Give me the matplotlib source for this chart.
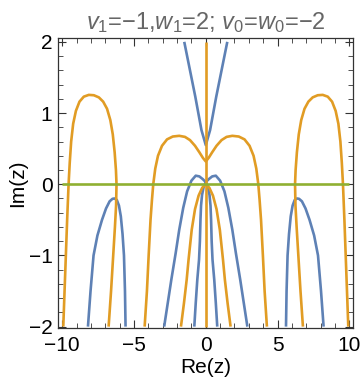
import matplotlib
matplotlib.use('Agg')
import matplotlib.pyplot as plt
from matplotlib.ticker import MultipleLocator

# ---------------------------------------------------------------------------- #
# Curves (x, y pairs in data units)
# ---------------------------------------------------------------------------- #
# blue: small side arches
blue_side_l_x = [-8.21, -8.03, -7.82, -7.55, -7.23, -6.95, -6.7, -6.5, -6.36, -6.2, -6.05,
                 -5.92, -5.8, -5.7, -5.63, -5.59]
blue_side_l_y = [-2.0, -1.5, -1.0, -0.72, -0.5, -0.34, -0.24, -0.205, -0.2, -0.22, -0.3,
                 -0.45, -0.7, -1.0, -1.5, -2.0]
blue_side_r_x = [8.21, 8.03, 7.82, 7.55, 7.23, 6.95, 6.7, 6.5, 6.36, 6.2, 6.05,
                 5.92, 5.8, 5.7, 5.63, 5.59]
blue_side_r_y = [-2.0, -1.5, -1.0, -0.72, -0.5, -0.34, -0.24, -0.205, -0.2, -0.22, -0.3,
                 -0.45, -0.7, -1.0, -1.5, -2.0]

# blue: V shape from the top
blue_v_x = [-1.5, -1.1, -0.73, -0.3, 0.0, 0.3, 0.73, 1.1, 1.5]
blue_v_y = [2.0, 1.6, 1.23, 0.76, 0.55, 0.76, 1.23, 1.6, 2.0]

# blue: two crossing central arches
blue_mid_l_x = [-2.9, -2.65, -2.4, -2.1, -1.85, -1.57, -1.3, -1.0, -0.7, -0.45, -0.2, 0.0,
                0.15, 0.26, 0.33, 0.37, 0.41, 0.47, 0.59, 0.7, 0.8]
blue_mid_l_y = [-2.0, -1.67, -1.34, -0.97, -0.64, -0.33, -0.1, 0.05, 0.12, 0.11, 0.07, 0.03,
                -0.04, -0.15, -0.3, -0.5, -0.8, -1.06, -1.34, -1.67, -2.0]
blue_mid_r_x = [2.9, 2.65, 2.4, 2.1, 1.85, 1.57, 1.3, 1.0, 0.7, 0.45, 0.2, 0.0,
                -0.15, -0.26, -0.33, -0.37, -0.41, -0.47, -0.59, -0.7, -0.8]
blue_mid_r_y = [-2.0, -1.67, -1.34, -0.97, -0.64, -0.33, -0.1, 0.05, 0.12, 0.11, 0.07, 0.03,
                -0.04, -0.15, -0.3, -0.5, -0.8, -1.06, -1.34, -1.67, -2.0]

# orange: outer arches
orange_out_l_x = [-9.93, -9.84, -9.75, -9.66, -9.56, -9.48, -9.38, -9.24, -9.05, -8.8, -8.5,
                  -8.15, -7.8, -7.45, -7.15, -6.88, -6.65, -6.48, -6.35, -6.26, -6.22,
                  -6.25, -6.33, -6.45, -6.6, -6.77]
orange_out_l_y = [-2.0, -1.5, -1.0, -0.5, 0.0, 0.3, 0.6, 0.85, 1.03, 1.16, 1.23,
                  1.255, 1.25, 1.22, 1.16, 1.06, 0.9, 0.7, 0.45, 0.2, 0.0,
                  -0.3, -0.6, -1.0, -1.5, -2.0]
orange_out_r_x = [9.93, 9.84, 9.75, 9.66, 9.56, 9.48, 9.38, 9.24, 9.05, 8.8, 8.5,
                  8.15, 7.8, 7.45, 7.15, 6.88, 6.65, 6.48, 6.35, 6.26, 6.22,
                  6.25, 6.33, 6.45, 6.6, 6.77]
orange_out_r_y = [-2.0, -1.5, -1.0, -0.5, 0.0, 0.3, 0.6, 0.85, 1.03, 1.16, 1.23,
                  1.255, 1.25, 1.22, 1.16, 1.06, 0.9, 0.7, 0.45, 0.2, 0.0,
                  -0.3, -0.6, -1.0, -1.5, -2.0]

# orange: M shape with a cusp on the imaginary axis
orange_m_x = [-4.26, -4.1, -3.98, -3.85, -3.75, -3.66, -3.52, -3.33, -3.05, -2.7, -2.3, -1.85,
              -1.45, -1.1, -0.75, -0.45, -0.2, 0.0,
              0.2, 0.45, 0.75, 1.1, 1.45, 1.85, 2.3, 2.7, 3.05, 3.33, 3.52, 3.66, 3.75, 3.85,
              3.98, 4.1, 4.26]
orange_m_y = [-2.0, -1.5, -1.0, -0.5, -0.22, 0.0, 0.22, 0.4, 0.54, 0.63, 0.67, 0.68,
              0.665, 0.62, 0.54, 0.45, 0.37, 0.32,
              0.37, 0.45, 0.54, 0.62, 0.665, 0.68, 0.67, 0.63, 0.54, 0.4, 0.22, 0.0, -0.22, -0.5,
              -1.0, -1.5, -2.0]

# orange: inner legs meeting at the origin
orange_in_x = [-1.73, -1.52, -1.33, -1.2, -0.98, -0.75, -0.5, -0.25, 0.0,
               0.25, 0.5, 0.75, 0.98, 1.2, 1.33, 1.52, 1.73]
orange_in_y = [-2.0, -1.67, -1.34, -1.06, -0.64, -0.35, -0.16, -0.05, 0.0,
               -0.05, -0.16, -0.35, -0.64, -1.06, -1.34, -1.67, -2.0]

# orange: imaginary axis
orange_axis_x = [0.0, 0.0]
orange_axis_y = [-2.0, 2.0]

# green: real axis
green_x = [-10.0, 10.0]
green_y = [0.0, 0.0]

blue_curves = [(blue_side_l_x, blue_side_l_y), (blue_side_r_x, blue_side_r_y),
               (blue_v_x, blue_v_y), (blue_mid_l_x, blue_mid_l_y), (blue_mid_r_x, blue_mid_r_y)]
orange_curves = [(orange_out_l_x, orange_out_l_y), (orange_out_r_x, orange_out_r_y),
                 (orange_m_x, orange_m_y), (orange_in_x, orange_in_y),
                 (orange_axis_x, orange_axis_y)]

# ---------------------------------------------------------------------------- #
# Style
# ---------------------------------------------------------------------------- #
plt.rcParams['font.family'] = ['Liberation Sans', 'DejaVu Sans']
plt.rcParams['mathtext.fontset'] = 'custom'
plt.rcParams['mathtext.rm'] = 'Liberation Sans'
plt.rcParams['mathtext.it'] = 'Liberation Sans:italic'

col_blue = '#5E81B5'
col_orange = '#E19C24'
col_green = '#8FB032'
lw = 1.9

fig = plt.figure(figsize=(3.6, 3.91), dpi=100)
ax = fig.add_axes([0.161, 0.161, 0.820, 0.742])

for cx, cy in blue_curves:
    ax.plot(cx, cy, color=col_blue, lw=lw, solid_joinstyle='round', solid_capstyle='butt')
for cx, cy in orange_curves:
    ax.plot(cx, cy, color=col_orange, lw=lw, solid_joinstyle='round', solid_capstyle='butt')
ax.plot(green_x, green_y, color=col_green, lw=lw, solid_capstyle='butt')

ax.set_xlim(-10.3, 10.27)
ax.set_ylim(-2.02, 2.055)

ax.xaxis.set_major_locator(MultipleLocator(5))
ax.xaxis.set_minor_locator(MultipleLocator(1))
ax.yaxis.set_major_locator(MultipleLocator(1))
ax.yaxis.set_minor_locator(MultipleLocator(0.2))
ax.tick_params(which='both', direction='in', top=True, right=True, color='#333333',
               labelsize=15)
ax.tick_params(axis='x', pad=6)
ax.tick_params(axis='y', pad=4)
ax.tick_params(which='major', length=6, width=0.8)
ax.tick_params(which='minor', length=3.5, width=0.6)
for s in ax.spines.values():
    s.set_color('#333333')
    s.set_linewidth(0.9)

ax.set_xlabel('Re(z)', fontsize=15, labelpad=2)
ax.set_ylabel('Im(z)', fontsize=15, labelpad=1)
ax.set_title(r'$v_1$=−1,$w_1$=2; $v_0$=$w_0$=−2', fontsize=17, color='#666666', pad=6)

fig.savefig('out.png', dpi=100)
plt.close()
